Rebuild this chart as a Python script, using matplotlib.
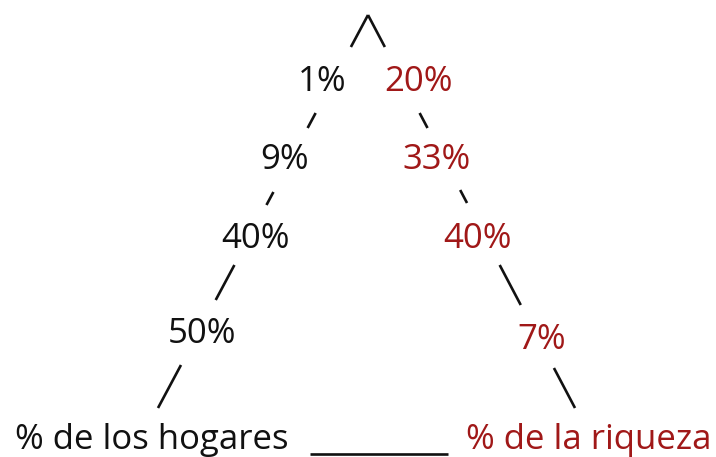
import matplotlib.pyplot as plt

# Distribution: share of households vs share of wealth (top to bottom)
hogares = ["1%", "9%", "40%", "50%"]
riqueza = ["20%", "33%", "40%", "7%"]
label_left = "% de los hogares"
label_right = "% de la riqueza"

RED = "#A01818"
BLACK = "#111111"

fig = plt.figure(figsize=(7.16, 4.57), dpi=100)
ax = fig.add_axes([0, 0, 1, 1])
ax.set_xlim(0, 716)
ax.set_ylim(457, 0)
ax.axis("off")

# triangle geometry (pixel space)
apex = (368, 15)
base_l = (158, 408)
base_r = (575, 408)


def edge_x(p0, p1, y):
    return p0[0] + (p1[0] - p0[0]) * (y - p0[1]) / (p1[1] - p0[1])


# visible pieces of each edge, between the labels
left_pieces = [(15, 47), (113, 128), (192, 205), (265, 300), (365, 408)]
right_pieces = [(15, 47), (113, 128), (190, 203), (265, 305), (368, 408)]

for y0, y1 in left_pieces:
    ax.plot([edge_x(apex, base_l, y0), edge_x(apex, base_l, y1)], [y0, y1],
            color=BLACK, lw=1.9, solid_capstyle="butt")
for y0, y1 in right_pieces:
    ax.plot([edge_x(apex, base_r, y0), edge_x(apex, base_r, y1)], [y0, y1],
            color=BLACK, lw=1.9, solid_capstyle="butt")

# label positions
left_pos = [(322, 82), (285, 160), (256, 239), (202, 334)]
right_pos = [(418, 82), (437, 160), (478, 239), (542, 340)]

font = dict(family="Open Sans", fontsize=25, ha="center", va="center")
for txt, (x, y) in zip(hogares, left_pos):
    ax.text(x, y, txt, color=BLACK, **font)
for txt, (x, y) in zip(riqueza, right_pos):
    ax.text(x, y, txt, color=RED, **font)

ax.text(152, 440, label_left, color=BLACK, **font)
ax.text(589, 440, label_right, color=RED, **font)

# base line
ax.plot([310, 448], [454, 454], color=BLACK, lw=1.9, solid_capstyle="butt")

fig.savefig("out.png", dpi=100)
